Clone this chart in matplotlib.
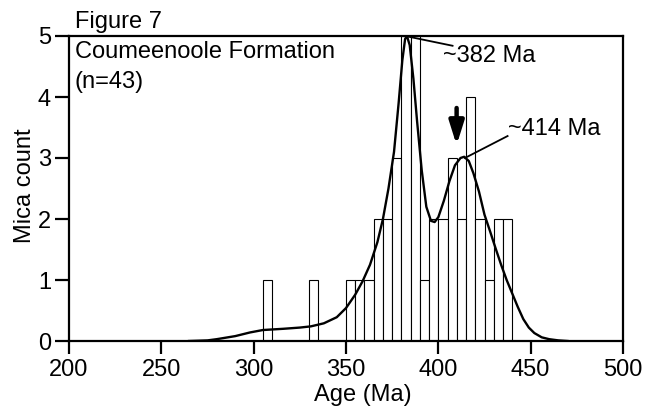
import matplotlib
matplotlib.use("Agg")
import matplotlib.pyplot as plt

plt.rcParams['font.family'] = ['Liberation Sans', 'DejaVu Sans']

# Histogram: left edges of 5 Ma bins and counts
bin_left = [305, 330, 350, 355, 360, 365, 370, 375, 380, 385, 390, 395, 400,
            405, 410, 415, 420, 425, 430, 435]
bin_count = [1, 1, 1, 1, 1, 2, 2, 3, 5, 5, 1, 2, 2, 3, 2, 4, 2, 1, 2, 2]
bin_width = 5

# Probability density curve (scaled to counts)
curve_age = [265, 275, 280, 290, 298, 305, 316, 325, 331, 338, 345, 350, 355,
             359, 363, 367, 370, 373, 376, 378.5, 380.5, 382, 383, 384.5,
             386.5, 388.5, 391, 393.5, 396, 398, 400, 403, 406, 409, 412, 414,
             416.5, 419, 422, 425, 428, 431, 434, 437, 440, 443, 446, 449, 452,
             456, 460, 465, 470]
curve_val = [0.0, 0.01, 0.03, 0.08, 0.14, 0.18, 0.20, 0.22, 0.24, 0.29, 0.39,
             0.54, 0.76, 0.98, 1.25, 1.62, 2.0, 2.5, 3.1, 3.9, 4.6, 4.95, 5.0,
             4.85, 4.3, 3.6, 2.8, 2.2, 1.97, 1.95, 2.03, 2.3, 2.62, 2.88, 3.0,
             3.02, 2.95, 2.75, 2.45, 2.07, 1.8, 1.52, 1.25, 1.0, 0.78, 0.56,
             0.36, 0.22, 0.13, 0.06, 0.03, 0.01, 0.0]

x_ticks = [200, 250, 300, 350, 400, 450, 500]
y_ticks = [0, 1, 2, 3, 4, 5]

FS = 17

fig = plt.figure(figsize=(6.46, 4.15), dpi=100)
ax = fig.add_axes([69/646, 1-341/415, (623-69)/646, (341-36)/415])

ax.bar(bin_left, bin_count, width=bin_width, align='edge', facecolor='white',
       edgecolor='black', linewidth=0.8, zorder=2)
ax.plot(curve_age, curve_val, color='black', linewidth=1.7, zorder=3)

ax.set_xlim(200, 500)
ax.set_ylim(0, 5)
ax.set_xticks(x_ticks)
ax.set_yticks(y_ticks)
ax.tick_params(axis='both', direction='out', width=1.6, labelsize=FS)
ax.tick_params(axis='x', length=9, pad=4)
ax.tick_params(axis='y', length=10, pad=3)
for s in ax.spines.values():
    s.set_linewidth(1.6)

ax.set_xlabel('Age (Ma)', fontsize=FS)
ax.xaxis.set_label_coords((362.6-69)/554, -0.14)
ax.set_ylabel('Mica count', fontsize=FS)
ax.yaxis.set_label_coords((36-69)/554, 0.51)

fig.text(75/646, 1-28.3/415, 'Figure 7', fontsize=FS, va='baseline', ha='left')
ax.text(0.0108, 0.927, 'Coumeenoole Formation', transform=ax.transAxes,
        fontsize=FS, va='baseline', ha='left')
ax.text(0.0108, 0.8285, '(n=43)', transform=ax.transAxes,
        fontsize=FS, va='baseline', ha='left')

# Peak annotations
ax.plot([383.7, 407.7], [4.99, 4.84], color='black', linewidth=1.3, zorder=4,
        clip_on=False)
ax.text(402.7, 4.58, '~382 Ma', fontsize=FS, va='baseline', ha='left')
ax.plot([414.4, 437.5], [3.0, 3.36], color='black', linewidth=1.3, zorder=4)
ax.text(437.9, 3.38, '~414 Ma', fontsize=FS, va='baseline', ha='left')

ax.annotate('', xy=(409.9, 3.21), xytext=(409.9, 3.82),
            arrowprops=dict(arrowstyle='-|>,head_length=0.7,head_width=0.22',
                            lw=3.2, color='black', shrinkA=0, shrinkB=0,
                            mutation_scale=20))

fig.savefig('out.png', dpi=100)
